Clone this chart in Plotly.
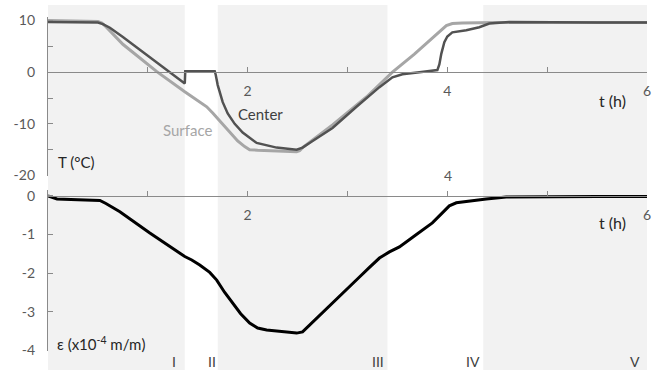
import plotly.graph_objects as go

# ---------------- data ----------------
t_surface = [0, 0.42, 0.50, 0.54, 0.58, 0.75, 1.09, 1.37, 1.59, 1.65, 1.74, 1.82, 1.90, 1.97,
             2.02, 2.10, 2.27, 2.49, 2.52, 2.55, 2.85, 3.19, 3.45, 3.67, 3.99, 4.05, 4.15,
             4.49, 5.0, 5.5, 6.0]
T_surface = [10.0, 9.9, 9.8, 9.5, 8.8, 5.4, 0.1, -3.8, -6.7, -7.9, -9.9, -11.7, -13.3, -14.4,
             -15.0, -15.1, -15.2, -15.4, -15.2, -14.6, -10.2, -4.8, 0.0, 3.5, 9.0, 9.4, 9.5,
             9.6, 9.6, 9.6, 9.6]

t_center = [0, 0.50, 0.55, 0.62, 0.75, 1.09, 1.37, 1.375, 1.67, 1.68, 1.70, 1.75, 1.80, 1.87,
            1.95, 2.09, 2.29, 2.49, 2.55, 2.62, 2.85, 3.09, 3.32, 3.45, 3.55, 3.72, 3.90,
            3.92, 3.94, 3.97, 4.00, 4.05, 4.19, 4.32, 4.42, 4.62, 5.0, 5.5, 6.0]
T_center = [9.7, 9.6, 9.3, 8.6, 6.8, 1.9, -2.2, 0.2, 0.2, -0.5, -2.5, -5.8, -8.0, -10.0,
            -11.7, -13.7, -14.6, -15.0, -14.6, -13.7, -10.8, -6.7, -2.9, -1.0, -0.4, 0.0, 0.4,
            1.5, 3.6, 5.8, 6.9, 7.7, 8.1, 8.7, 9.4, 9.7, 9.6, 9.6, 9.6]

t_strain = [0, 0.05, 0.09, 0.30, 0.52, 0.58, 0.72, 1.02, 1.37, 1.44, 1.52, 1.62, 1.69, 1.77,
            1.85, 1.93, 2.02, 2.10, 2.19, 2.35, 2.49, 2.55, 2.70, 2.85, 3.00, 3.12, 3.22,
            3.32, 3.42, 3.52, 3.68, 3.85, 3.95, 4.02, 4.09, 4.15, 4.25, 4.39, 4.59, 5.0,
            5.5, 6.0]
eps = [0, -0.05, -0.08, -0.10, -0.12, -0.20, -0.41, -0.96, -1.57, -1.66, -1.79, -1.98, -2.18,
       -2.50, -2.77, -3.05, -3.29, -3.42, -3.47, -3.52, -3.55, -3.52, -3.15, -2.77, -2.42,
       -2.10, -1.85, -1.61, -1.45, -1.32, -1.02, -0.70, -0.44, -0.26, -0.18, -0.16, -0.12,
       -0.08, -0.03, -0.02, -0.02, -0.02]

phase_starts = [0.0, 1.70, 4.36]
phase_ends = [1.37, 3.40, 6.0]
phase_labels = ["I", "II", "III", "IV", "V"]
phase_label_px = [174, 212, 378, 473, 635]

t_ticks = [1, 2, 3, 4, 5, 6]
t_ticktext_top = ["", "2", "", "4", "", "6"]
t_ticktext_bottom = ["", "2", "", "", "", "6"]
T_ticks = [-20, -15, -10, -5, 0, 5, 10]
T_ticktext = ["-20", "", "-10", "", "0", "", "10"]
eps_ticks = [-4, -3, -2, -1, 0]
eps_ticktext = ["-4", "-3", "-2", "-1", "0"]

# ---------------- geometry helpers ----------------
W, H = 661, 374
L, R = 48, 14


def px_x(p):
    return (p - L) / (W - L - R)


def px_y(p):
    return 1 - p / H


T_lo, T_hi = -20, 10.6
T_scale = (175.5 - 20.5) / 30.0
top_dom = [px_y(175.5), px_y(175.5 - (T_hi - T_lo) * T_scale)]
top_zero = px_y(175.5 - (0 - T_lo) * T_scale)

e_lo, e_hi = -4, 0.15
e_scale = (350.5 - 195.8) / 4.0
bot_dom = [px_y(350.5), px_y(350.5 - (e_hi - e_lo) * e_scale)]
bot_zero = px_y(195.8)

AX = "#8a8a8a"
TICKFONT = dict(family="Lato", size=14, color="#595959")
TXT = "#262626"

fig = go.Figure()
fig.add_trace(go.Scatter(x=t_surface, y=T_surface, mode="lines", xaxis="x", yaxis="y",
                         line=dict(color="#a6a6a6", width=3), name="Surface"))
fig.add_trace(go.Scatter(x=t_center, y=T_center, mode="lines", xaxis="x", yaxis="y",
                         line=dict(color="#525252", width=2.5), name="Center"))
fig.add_trace(go.Scatter(x=t_strain, y=eps, mode="lines", xaxis="x2", yaxis="y2",
                         line=dict(color="#000000", width=3), name="strain"))

shapes = []
for a, b in zip(phase_starts, phase_ends):
    shapes.append(dict(type="rect", xref="x", yref="paper", x0=a, x1=b,
                       y0=px_y(370), y1=px_y(5), fillcolor="#f2f2f2",
                       line=dict(width=0), layer="below"))

ann = []


def add_text(text, xp, yp, color=TXT, size=15, xanchor="center"):
    ann.append(dict(text=text, x=px_x(xp), y=px_y(yp), xref="paper", yref="paper",
                    showarrow=False, xanchor=xanchor, yanchor="middle",
                    font=dict(family="Lato", size=size, color=color)))


add_text("T (°C)", 56, 162, xanchor="left")
add_text("ε (x10<sup>-4</sup> m/m)", 55, 343, xanchor="left")
add_text("Surface", 188, 130, color="#a6a6a6")
add_text("Center", 260, 114, color="#404040")
add_text("t (h)", 612, 101, size=16)
add_text("t (h)", 612, 222, size=16)
add_text("4", 448, 175, color="#595959", size=14)
for lab, p in zip(phase_labels, phase_label_px):
    add_text(lab, p, 361, color="#404040", size=14)

common_x = dict(range=[0, 6], domain=[0, 1], showline=True, linecolor=AX, linewidth=1.3,
                ticks="inside", ticklen=5, tickcolor=AX, tickvals=t_ticks,
                showgrid=False, zeroline=False, tickfont=TICKFONT, anchor="free",
                ticklabelstandoff=6, automargin=False)
common_y = dict(showline=True, linecolor=AX, linewidth=1.3, ticks="inside", ticklen=5,
                tickcolor=AX, showgrid=False, zeroline=False, tickfont=TICKFONT,
                anchor="x", ticklabelstandoff=9, automargin=False)

fig.update_layout(
    width=W, height=H,
    margin=dict(l=L, r=R, t=0, b=0, autoexpand=False),
    paper_bgcolor="white", plot_bgcolor="rgba(0,0,0,0)",
    showlegend=False,
    xaxis=dict(common_x, position=top_zero, ticktext=t_ticktext_top),
    xaxis2=dict(common_x, position=bot_zero, ticktext=t_ticktext_bottom, matches="x"),
    yaxis=dict(common_y, range=[T_lo, T_hi], domain=top_dom, tickvals=T_ticks,
               ticktext=T_ticktext),
    yaxis2=dict(common_y, range=[e_lo, e_hi], domain=bot_dom, tickvals=eps_ticks,
                ticktext=eps_ticktext, anchor="x2"),
    shapes=shapes,
    annotations=ann,
)

fig.write_html("out.html")
